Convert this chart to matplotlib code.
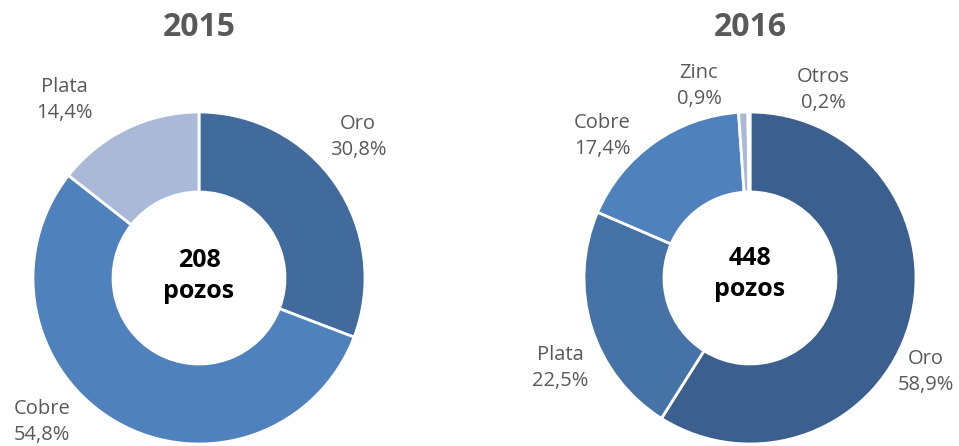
import matplotlib.pyplot as plt

# datos 2015 (sentido horario desde las 12)
labels_2015 = ['Oro', 'Cobre', 'Plata']
values_2015 = [30.8, 54.8, 14.4]
colors_2015 = ['#416A9D', '#4F81BD', '#A9B9D7']
total_2015 = 208

# datos 2016
labels_2016 = ['Oro', 'Plata', 'Cobre', 'Zinc', 'Otros']
values_2016 = [58.9, 22.5, 17.4, 0.9, 0.2]
colors_2016 = ['#3B5F8E', '#4572A7', '#4F81BD', '#A9B9D7', '#C5D2E8']
total_2016 = 448

W, H = 959, 446
fig = plt.figure(figsize=(W / 100, H / 100), dpi=100)
ax = fig.add_axes([0, 0, 1, 1])

plt.rcParams['font.family'] = ['Open Sans', 'DejaVu Sans']
gray = '#595959'

R = 166
ring = 80


def donut(cx, cy, values, colors):
    ax.pie(values, colors=colors, radius=R, center=(cx, cy), startangle=90,
           counterclock=False, frame=True,
           wedgeprops=dict(width=ring, edgecolor='white', linewidth=2))


donut(199, H - 278, values_2015, colors_2015)
donut(750, H - 278, values_2016, colors_2016)
ax.set_xlim(0, W)
ax.set_ylim(0, H)
ax.set_aspect('equal')
ax.axis('off')

# titulos y totales
ax.text(199, H - 28, '2015', ha='center', va='center', fontsize=23,
        fontweight='bold', color=gray)
ax.text(750, H - 28, '2016', ha='center', va='center', fontsize=23,
        fontweight='bold', color=gray)
ax.text(199, H - 276, f'{total_2015}\npozos', ha='center', va='center',
        fontsize=18, fontweight='bold', color='black', linespacing=1.3)
ax.text(750, H - 274, f'{total_2016}\npozos', ha='center', va='center',
        fontsize=18, fontweight='bold', color='black', linespacing=1.3)

# posiciones de etiquetas
pos_2015 = [(358, 137), (42, 422), (64, 100)]
pos_2016 = [(926, 372), (560, 368), (602, 136), (699, 86), (823, 90)]


def fmt(v):
    return f'{v:.1f}%'.replace('.', ',')


for lab, v, (x, y) in zip(labels_2015, values_2015, pos_2015):
    ax.text(x, H - y, f'{lab}\n{fmt(v)}', ha='center', va='center',
            fontsize=14.5, color=gray, linespacing=1.45)
for lab, v, (x, y) in zip(labels_2016, values_2016, pos_2016):
    ax.text(x, H - y, f'{lab}\n{fmt(v)}', ha='center', va='center',
            fontsize=14.5, color=gray, linespacing=1.45)

fig.savefig('out.png', dpi=100)
